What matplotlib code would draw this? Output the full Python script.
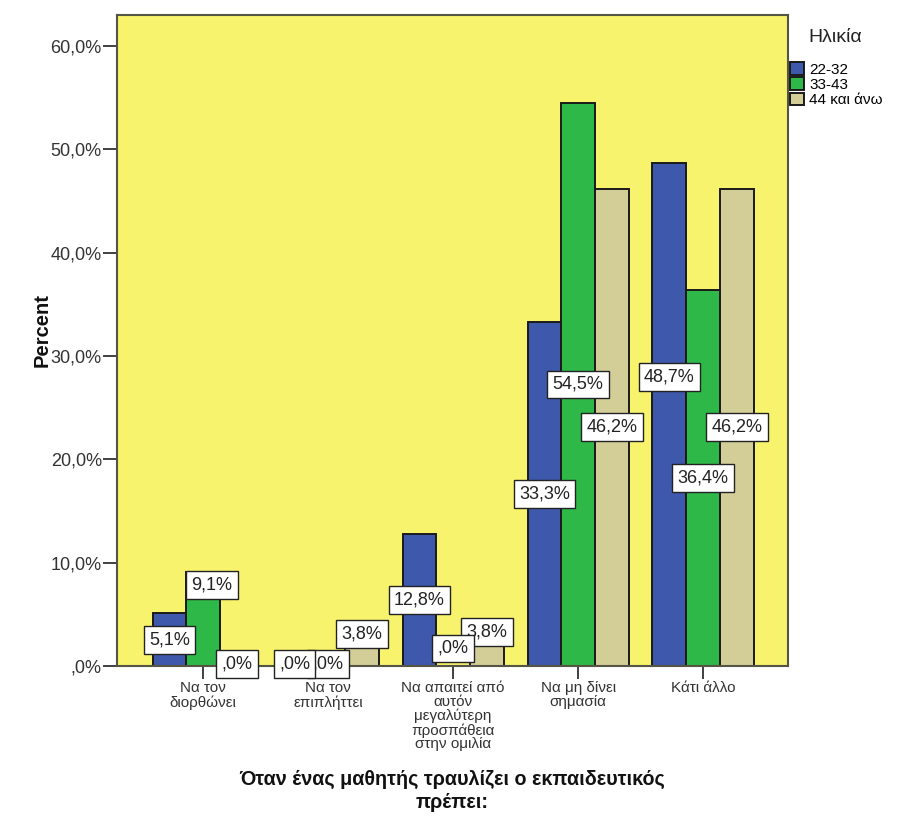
import matplotlib.pyplot as plt
import numpy as np
from matplotlib.ticker import FuncFormatter

plt.rcParams["font.family"] = ["Liberation Sans", "DejaVu Sans"]

categories = [
    "Να τον\nδιορθώνει",
    "Να τον\nεπιπλήττει",
    "Να απαιτεί από\nαυτόν\nμεγαλύτερη\nπροσπάθεια\nστην ομιλία",
    "Να μη δίνει\nσημασία",
    "Κάτι άλλο",
]
groups = ["22-32", "33-43", "44 και άνω"]
pct_22_32 = [5.1, 0.0, 12.8, 33.3, 48.7]
pct_33_43 = [9.1, 0.0, 0.0, 54.5, 36.4]
pct_44_up = [0.0, 3.8, 3.8, 46.2, 46.2]
series = [pct_22_32, pct_33_43, pct_44_up]
colors = ["#3E58AC", "#2EB848", "#D3CE97"]

# SPSS nudges some labels away from the bar middle to avoid overlaps
label_override = {(1, 0): 7.8, (2, 1): 3.1, (1, 2): 1.7, (2, 2): 3.3, (0, 4): 28.0}


def fmt_pct(v):
    s = f"{v:.1f}".replace(".", ",")
    if s.startswith("0,"):
        s = s[1:]
    return s + "%"


fig = plt.figure(figsize=(9.03, 8.39), dpi=100)
ax = fig.add_axes([0.1296, 0.2062, 0.7431, 0.7759])
ax.set_facecolor("#F8F36C")

x = np.arange(len(categories))
w = 0.27
handles = []
for i, (vals, col, name) in enumerate(zip(series, colors, groups)):
    xs = x + (i - 1) * w
    b = ax.bar(xs, vals, width=w, color=col, edgecolor="#1a1a1a", linewidth=1.4,
               label=name, zorder=2)
    handles.append(b)
    for j, v in enumerate(vals):
        ypos = label_override.get((i, j), v / 2 if v > 0 else 0.2)
        xl = xs[j] + (0.07 if (i, j) == (1, 0) else 0)
        ax.text(xl, ypos, fmt_pct(v), ha="center", va="center", fontsize=13,
                color="#222222", zorder=10 - i,
                bbox=dict(boxstyle="square,pad=0.3", facecolor="white",
                          edgecolor="#222222", linewidth=1.0))

ax.set_xlim(-0.69, 4.68)
ax.set_ylim(0, 63)
ax.set_yticks(np.arange(0, 61, 10))
ax.yaxis.set_major_formatter(FuncFormatter(lambda v, _: fmt_pct(v)))
ax.set_xticks(x)
ax.set_xticklabels(categories, fontsize=11, color="#222222", linespacing=0.98)
ax.tick_params(axis="y", labelsize=13, length=10, width=1.3, colors="#333333", pad=1)
ax.tick_params(axis="x", length=9, width=1.3, colors="#333333", pad=2)
for sp in ax.spines.values():
    sp.set_color("#555545")
    sp.set_linewidth(1.5)

fig.text(42 / 903, 1 - 330 / 839, "Percent", rotation=90, ha="center", va="center",
         fontsize=14.5, fontweight="bold", color="#111111")
fig.text(452 / 903, 1 - 791 / 839,
         "Όταν ένας μαθητής τραυλίζει ο εκπαιδευτικός\nπρέπει:",
         ha="center", va="center", fontsize=14.2, fontweight="bold",
         linespacing=1.25, color="#111111")

fig.text(808 / 903, 1 - 38 / 839, "Ηλικία", ha="left", va="center", fontsize=14,
         color="#222222")
fig.legend(handles=handles, labels=groups, loc="upper left",
           bbox_to_anchor=(790 / 903, 1 - 62 / 839), frameon=False, fontsize=11,
           handlelength=0.9, handleheight=0.9, handletextpad=0.35,
           labelspacing=0.05, borderpad=0, borderaxespad=0)

fig.savefig("out.png", dpi=100)
